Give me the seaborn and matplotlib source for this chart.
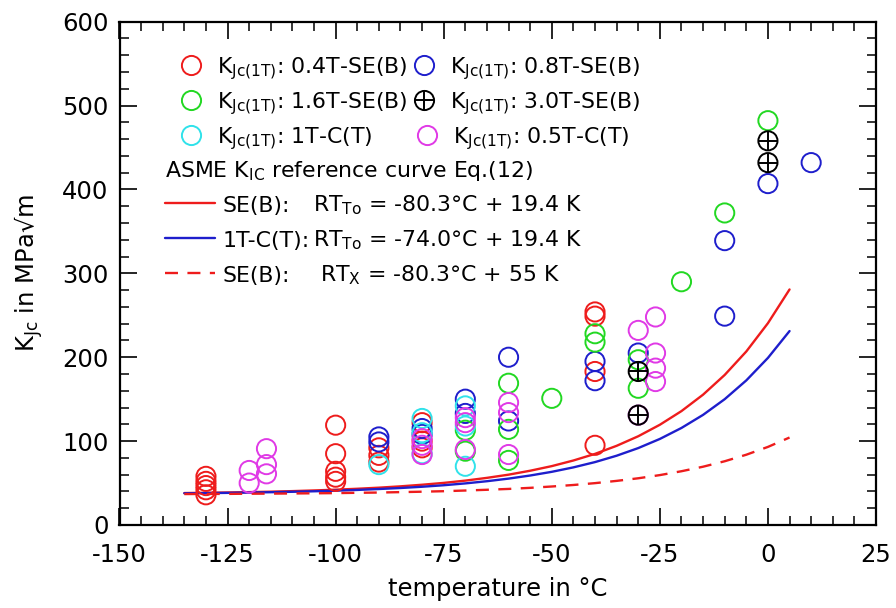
import matplotlib
matplotlib.use("Agg")
import matplotlib.pyplot as plt
from matplotlib.ticker import MultipleLocator
import seaborn as sns

# K_Jc(1T) fracture toughness per specimen type: temperature (°C) and value (MPa√m)
t_04T_seb = [-130, -130, -130, -130, -130, -100, -100, -100, -100, -100,
             -90, -90, -90, -80, -80, -80, -40, -40, -40, -40]
k_04T_seb = [58, 52, 47, 42, 36, 119, 85, 64, 57, 52,
             92, 83, 75, 122, 100, 92, 254, 249, 183, 95]

t_08T_seb = [-90, -90, -80, -80, -70, -70, -60, -60, -40, -40, -30, -10, -10, 0, 10]
k_08T_seb = [105, 99, 115, 108, 150, 133, 200, 124, 195, 172, 205, 339, 249, 407, 432]

t_16T_seb = [-70, -70, -60, -60, -60, -50, -40, -40, -30, -30, -20, -10, 0]
k_16T_seb = [113, 88, 169, 114, 77, 151, 228, 218, 197, 163, 290, 372, 482]

t_30T_seb = [-30, -30, 0, 0]
k_30T_seb = [183, 131, 458, 432]

t_1T_ct = [-90, -80, -80, -80, -70, -70, -70]
k_1T_ct = [72, 127, 110, 85, 142, 118, 70]

t_05T_ct = [-120, -120, -116, -116, -116, -80, -80, -80, -70, -70, -70,
            -60, -60, -60, -30, -30, -26, -26, -26, -26]
k_05T_ct = [65, 50, 91, 72, 61, 103, 95, 84, 128, 122, 90,
            146, 134, 84, 232, 131, 248, 205, 187, 171]

# ASME K_IC reference curves, Eq.(12)
curve_t = [-135, -130, -125, -120, -115, -110, -105, -100, -95, -90, -85, -80, -75, -70,
           -65, -60, -55, -50, -45, -40, -35, -30, -25, -20, -15, -10, -5, 0, 5]
curve_seb_to = [38.1, 38.4, 38.8, 39.2, 39.7, 40.4, 41.2, 42.1, 43.2, 44.5, 46.1, 48.0, 50.2, 52.9,
                56.2, 60.0, 64.7, 70.2, 76.9, 84.8, 94.4, 105.8, 119.5, 135.8, 155.4, 178.9, 206.9, 240.6, 280.8]
curve_ct_to = [37.8, 38.0, 38.3, 38.7, 39.1, 39.6, 40.2, 40.9, 41.8, 42.9, 44.1, 45.6, 47.4, 49.6,
               52.2, 55.3, 59.0, 63.4, 68.7, 75.0, 82.6, 91.7, 102.6, 115.7, 131.3, 150.0, 172.4, 199.2, 231.2]
curve_seb_x = [36.9, 37.0, 37.1, 37.3, 37.4, 37.6, 37.8, 38.0, 38.4, 38.7, 39.2, 39.7, 40.3, 41.1,
               42.0, 43.0, 44.3, 45.9, 47.7, 49.9, 52.6, 55.7, 59.5, 64.1, 69.5, 76.0, 83.8, 93.1, 104.3]

x_ticks = [-150, -125, -100, -75, -50, -25, 0, 25]
y_ticks = [0, 100, 200, 300, 400, 500, 600]

RED = "#ee1c1c"
BLUE = "#1e1ecc"
GREEN = "#22d822"
CYAN = "#30e2ea"
MAGENTA = "#e03ae6"
BLACK = "#000000"

sns.set_style("ticks")
plt.rcParams["font.family"] = ["DejaVu Sans"]
plt.rcParams["mathtext.fontset"] = "dejavusans"
plt.rcParams["axes.unicode_minus"] = False
plt.rcParams["text.color"] = "black"
plt.rcParams["axes.labelcolor"] = "black"
plt.rcParams["xtick.color"] = "black"
plt.rcParams["ytick.color"] = "black"

W, H = 896, 608
fig = plt.figure(figsize=(W / 100, H / 100), dpi=100)
AX_L, AX_R, AX_T, AX_B = 119.5, 876.0, 21.7, 525.0
ax = fig.add_axes([AX_L / W, (H - AX_B) / H, (AX_R - AX_L) / W, (AX_B - AX_T) / H])


def fx(px):
    return (px - AX_L) / (AX_R - AX_L)


def fy(py):
    return (AX_B - py) / (AX_B - AX_T)


LW = 1.7
sns.lineplot(x=curve_t, y=curve_seb_to, ax=ax, color=RED, lw=LW, zorder=2)
sns.lineplot(x=curve_t, y=curve_ct_to, ax=ax, color=BLUE, lw=LW, zorder=2)
sns.lineplot(x=curve_t, y=curve_seb_x, ax=ax, color=RED, lw=LW, zorder=2,
             linestyle=(0, (5.5, 4.0)))

MS = 13.8
S = MS ** 2
MEW = 1.4
series = [
    (t_04T_seb, k_04T_seb, RED),
    (t_08T_seb, k_08T_seb, BLUE),
    (t_16T_seb, k_16T_seb, GREEN),
    (t_1T_ct, k_1T_ct, CYAN),
    (t_05T_ct, k_05T_ct, MAGENTA),
]
for t, k, c in series:
    sns.scatterplot(x=t, y=k, ax=ax, marker="o", s=S, facecolor="none",
                    edgecolor=c, linewidth=MEW, zorder=3, legend=False)
sns.scatterplot(x=t_30T_seb, y=k_30T_seb, ax=ax, marker="o", s=S, facecolor="none",
                edgecolor=BLACK, linewidth=MEW, zorder=4, legend=False)
sns.scatterplot(x=t_30T_seb, y=k_30T_seb, ax=ax, marker="+", s=S, color=BLACK,
                linewidth=MEW, zorder=4, legend=False)

ax.set_xlim(-150, 25)
ax.set_ylim(0, 600)
ax.set_xticks(x_ticks)
ax.set_yticks(y_ticks)
ax.xaxis.set_minor_locator(MultipleLocator(5))
ax.yaxis.set_minor_locator(MultipleLocator(20))
ax.tick_params(which="both", direction="in", top=True, right=True, color="black")
ax.tick_params(which="major", length=12, width=1.2, labelsize=17.5, labelcolor="black")
ax.tick_params(which="minor", length=6.5, width=1.1)
ax.tick_params(axis="x", which="major", pad=13)
ax.tick_params(axis="y", which="major", pad=8)
for sp in ax.spines.values():
    sp.set_linewidth(1.6)
    sp.set_color("black")

ax.set_xlabel("temperature in °C", fontsize=17.5, labelpad=7)
ax.set_ylabel(r"K$_{\mathrm{Jc}}$ in MPa√m", fontsize=17.5, labelpad=12)

# Legend block
LFS = 15.8
KLAB = r"K$_{\mathrm{Jc(1T)}}$"
legend_rows = [
    (190.7, 65, 216.7, RED, "o", ": 0.4T-SE(B)"),
    (424.0, 65, 450.0, BLUE, "o", ": 0.8T-SE(B)"),
    (190.7, 100, 216.7, GREEN, "o", ": 1.6T-SE(B)"),
    (424.0, 100, 450.0, BLACK, "+", ": 3.0T-SE(B)"),
    (190.7, 135, 216.7, CYAN, "o", ": 1T-C(T)"),
    (426.7, 135, 453.3, MAGENTA, "o", ": 0.5T-C(T)"),
]
for mx, my, tx, c, kind, lab in legend_rows:
    ax.plot([fx(mx)], [fy(my)], transform=ax.transAxes, marker="o", ms=MS,
            mfc="none", mec=c, mew=MEW, ls="none", clip_on=False)
    if kind == "+":
        ax.plot([fx(mx)], [fy(my)], transform=ax.transAxes, marker="+", ms=MS,
                mec=c, mew=MEW, ls="none", clip_on=False)
    ax.text(fx(tx), fy(my + 8), KLAB + lab, transform=ax.transAxes,
            fontsize=LFS, va="baseline", ha="left")

ax.text(fx(165), fy(177), r"ASME K$_{\mathrm{IC}}$ reference curve Eq.(12)",
        transform=ax.transAxes, fontsize=LFS, va="baseline", ha="left")

line_rows = [
    (203.3, RED, "-", "SE(B):", 313.3, r"RT$_{\mathrm{To}}$ = -80.3°C + 19.4 K"),
    (238.3, BLUE, "-", "1T-C(T):", 313.3, r"RT$_{\mathrm{To}}$ = -74.0°C + 19.4 K"),
    (273.3, RED, (0, (5.5, 4.0)), "SE(B):", 320.0, r"RT$_{\mathrm{X}}$ = -80.3°C + 55 K"),
]
for ly, c, ls, lab1, rx, lab2 in line_rows:
    ax.plot([fx(165), fx(215)], [fy(ly), fy(ly)], transform=ax.transAxes,
            color=c, lw=LW, ls=ls, clip_on=False)
    ax.text(fx(222.7), fy(ly + 8.4), lab1, transform=ax.transAxes,
            fontsize=LFS, va="baseline", ha="left")
    ax.text(fx(rx), fy(ly + 8.4), lab2, transform=ax.transAxes,
            fontsize=LFS, va="baseline", ha="left")

fig.savefig("out.png", dpi=100)
